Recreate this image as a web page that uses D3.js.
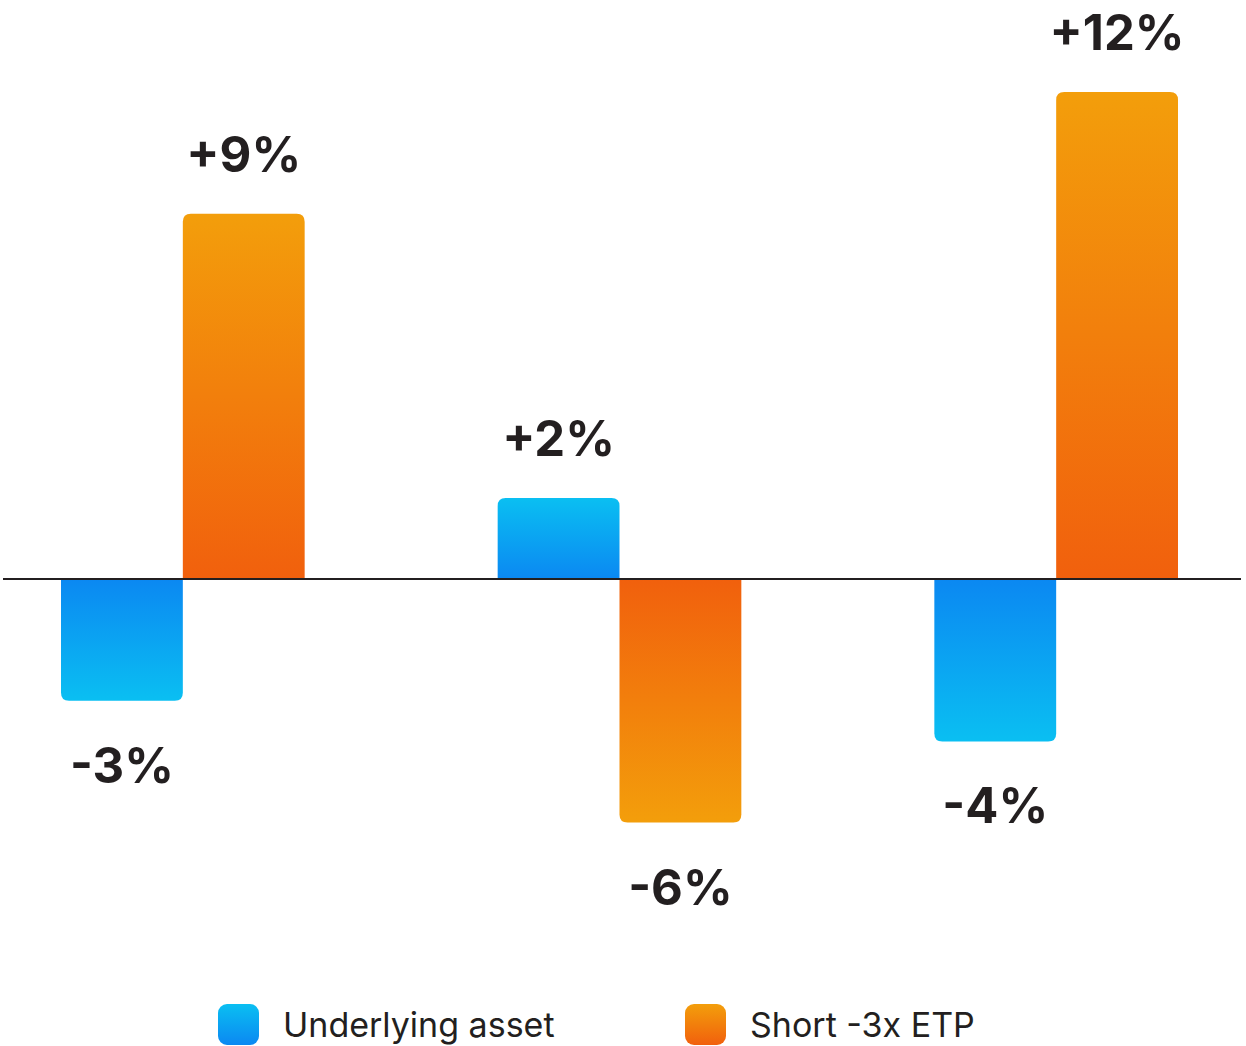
<!DOCTYPE html>
<html>
<head>
<meta charset="utf-8">
<script src="https://cdn.jsdelivr.net/npm/d3@7"></script>
<style>
  body { margin: 0; background: #fff; }
  svg { display: block; font-family: Inter, "Noto Sans", sans-serif; }
</style>
</head>
<body>
<div id="chart"></div>
<script>
// chart data
var groups = ["A", "B", "C"];
var seriesNames = ["Underlying asset", "Short -3x ETP"];
var underlying = [-3, 2, -4];
var shortEtp = [9, -6, 12];

var width = 1246, height = 1046;
var svg = d3.select("#chart").append("svg")
  .attr("width", width)
  .attr("height", height);

// colours: [near baseline, far end]
var colours = {
  "Underlying asset": ["#0B88F2", "#0ABFF2"],
  "Short -3x ETP": ["#F1600D", "#F39E0B"]
};

var defs = svg.append("defs");
function makeGrad(id, c0, c1, up) {
  var g = defs.append("linearGradient").attr("id", id)
    .attr("x1", 0).attr("x2", 0)
    .attr("y1", up ? 1 : 0).attr("y2", up ? 0 : 1);
  g.append("stop").attr("offset", "0%").attr("stop-color", c0);
  g.append("stop").attr("offset", "100%").attr("stop-color", c1);
}
seriesNames.forEach(function(s, i) {
  makeGrad("g" + i + "up", colours[s][0], colours[s][1], true);
  makeGrad("g" + i + "down", colours[s][0], colours[s][1], false);
});

var x0 = d3.scaleBand()
  .domain(groups)
  .range([61, 1178])
  .paddingInner(0.442)
  .paddingOuter(0);

var x1 = d3.scaleBand()
  .domain(seriesNames)
  .range([0, x0.bandwidth()]);

var y = d3.scaleLinear()
  .domain([-6, 12])
  .range([822.6, 92]);

var data = [];
groups.forEach(function(g, i) {
  data.push({group: g, series: seriesNames[0], si: 0, value: underlying[i]});
  data.push({group: g, series: seriesNames[1], si: 1, value: shortEtp[i]});
});

// bar with rounded outer end only
function barPath(d) {
  var bx = x0(d.group) + x1(d.series), w = x1.bandwidth();
  var y0 = y(0), y1 = y(d.value), r = 8;
  var s = d.value >= 0 ? 1 : -1;
  return "M" + bx + "," + y0 + "V" + (y1 + s * r) +
    "Q" + bx + "," + y1 + " " + (bx + r) + "," + y1 +
    "H" + (bx + w - r) +
    "Q" + (bx + w) + "," + y1 + " " + (bx + w) + "," + (y1 + s * r) +
    "V" + y0 + "Z";
}

svg.append("g").selectAll("path")
  .data(data)
  .enter().append("path")
    .attr("d", barPath)
    .attr("fill", function(d) { return "url(#g" + d.si + (d.value >= 0 ? "up" : "down") + ")"; });

// baseline
svg.append("line")
  .attr("x1", 3).attr("x2", 1241)
  .attr("y1", y(0)).attr("y2", y(0))
  .attr("stroke", "#231F20")
  .attr("stroke-width", 2);

// value labels
svg.append("g").selectAll("text")
  .data(data)
  .enter().append("text")
    .attr("x", function(d) { return x0(d.group) + x1(d.series) + x1.bandwidth() / 2; })
    .attr("y", function(d) { return d.value >= 0 ? y(d.value) - 42 : y(d.value) + 82; })
    .attr("text-anchor", "middle")
    .attr("font-size", "49px")
    .attr("font-weight", 700)
    .attr("fill", "#231F20")
    .text(function(d) { return (d.value > 0 ? "+" : "") + d.value + "%"; });

// legend
var legendX = [218, 685];
var legend = svg.append("g").selectAll("g")
  .data(seriesNames)
  .enter().append("g")
    .attr("transform", function(d, i) { return "translate(" + legendX[i] + ",1004)"; });

legend.append("rect")
  .attr("width", 41).attr("height", 41)
  .attr("rx", 9)
  .attr("fill", function(d, i) { return "url(#g" + i + "up)"; });

legend.append("text")
  .attr("x", 65)
  .attr("y", 33)
  .attr("font-size", "34px")
  .attr("fill", "#231F20")
  .text(function(d) { return d; });
</script>
</body>
</html>
